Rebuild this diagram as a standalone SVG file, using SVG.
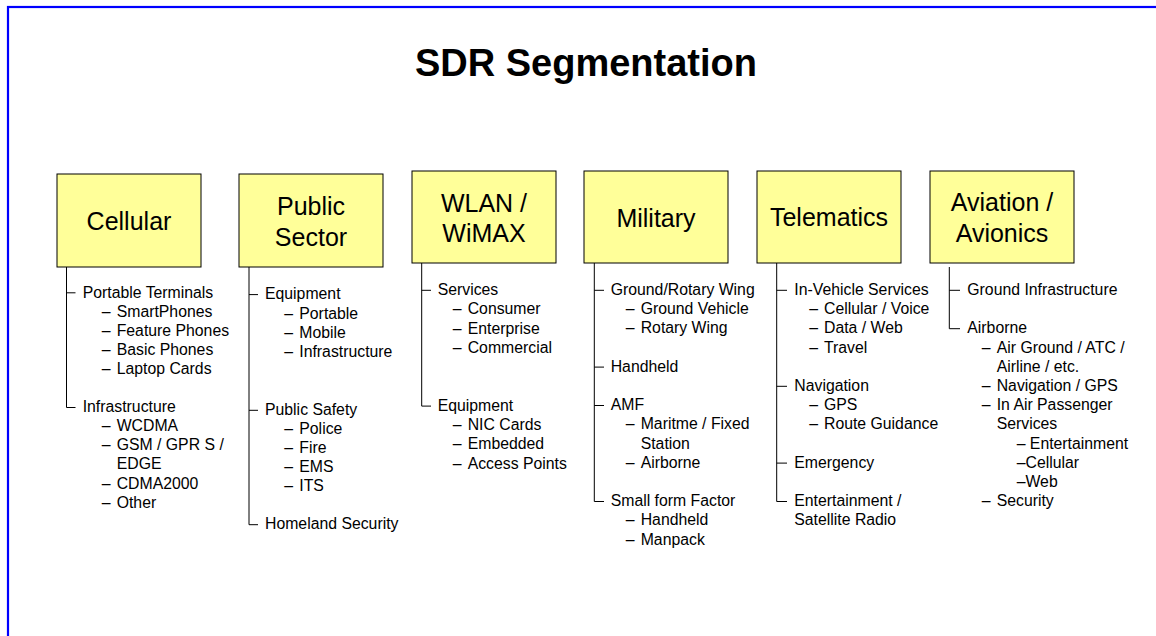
<svg xmlns="http://www.w3.org/2000/svg" width="1156" height="636" viewBox="0 0 1156 636">
<style>
.box{fill:#FFFF99;stroke:#000;stroke-width:1}
.bt{font-family:"Liberation Sans",Arial,sans-serif;font-size:25px;fill:#000;text-anchor:middle}
.li{font-family:"Liberation Sans",Arial,sans-serif;font-size:15.8px;fill:#000}
.title{font-family:"Liberation Sans",Arial,sans-serif;font-size:38px;font-weight:bold;fill:#000;text-anchor:middle}
.cn{stroke:#000;stroke-width:1;fill:none}
</style>
<rect x="8" y="7" width="1200" height="700" fill="#fff" stroke="#0000FF" stroke-width="2.2"/>
<text class="title" x="586" y="76">SDR Segmentation</text>

<g id="connectors" class="cn">
<path d="M66.5 267V407.5M66.5 292.8H75.5M66.5 407.5H75.5"/>
<path d="M249 267V524.7M249 294.6H258M249 410.3H258M249 524.7H258"/>
<path d="M421.7 263V406.1M421.7 290.3H431M421.7 406.1H431"/>
<path d="M594.3 263V501.5M594.3 290.3H604M594.3 367.1H604M594.3 405.5H604M594.3 501.5H604"/>
<path d="M776.7 263V501.5M776.7 290.3H787M776.7 386.3H787M776.7 463.1H787M776.7 501.5H787"/>
<path d="M949.3 267V328.7M949.3 290.3H960M949.3 328.7H960"/>
</g>

<g id="cellular">
<rect class="box" x="57" y="174" width="144" height="93"/>
<text class="bt" x="129" y="230">Cellular</text>
<text class="li" x="82.7" y="297.5">Portable Terminals</text>
<text class="li" y="316.6"><tspan x="101.7">–</tspan><tspan x="116.7">SmartPhones</tspan></text>
<text class="li" y="335.7"><tspan x="101.7">–</tspan><tspan x="116.7">Feature Phones</tspan></text>
<text class="li" y="354.8"><tspan x="101.7">–</tspan><tspan x="116.7">Basic Phones</tspan></text>
<text class="li" y="373.9"><tspan x="101.7">–</tspan><tspan x="116.7">Laptop Cards</tspan></text>
<text class="li" x="82.7" y="412.1">Infrastructure</text>
<text class="li" y="431.2"><tspan x="101.7">–</tspan><tspan x="116.7">WCDMA</tspan></text>
<text class="li" y="450.3"><tspan x="101.7">–</tspan><tspan x="116.7">GSM / GPR S /</tspan></text>
<text class="li" x="116.7" y="469.4">EDGE</text>
<text class="li" y="488.5"><tspan x="101.7">–</tspan><tspan x="116.7">CDMA2000</tspan></text>
<text class="li" y="507.6"><tspan x="101.7">–</tspan><tspan x="116.7">Other</tspan></text>
</g>

<g id="public-sector">
<rect class="box" x="239" y="174" width="144" height="93"/>
<text class="bt" x="311" y="215">Public</text>
<text class="bt" x="311" y="246">Sector</text>
<text class="li" x="265" y="299.3">Equipment</text>
<text class="li" y="318.5"><tspan x="284.3">–</tspan><tspan x="299.3">Portable</tspan></text>
<text class="li" y="337.7"><tspan x="284.3">–</tspan><tspan x="299.3">Mobile</tspan></text>
<text class="li" y="356.9"><tspan x="284.3">–</tspan><tspan x="299.3">Infrastructure</tspan></text>
<text class="li" x="265" y="414.5">Public Safety</text>
<text class="li" y="433.7"><tspan x="284.3">–</tspan><tspan x="299.3">Police</tspan></text>
<text class="li" y="452.9"><tspan x="284.3">–</tspan><tspan x="299.3">Fire</tspan></text>
<text class="li" y="472.1"><tspan x="284.3">–</tspan><tspan x="299.3">EMS</tspan></text>
<text class="li" y="491.3"><tspan x="284.3">–</tspan><tspan x="299.3">ITS</tspan></text>
<text class="li" x="265" y="529.4">Homeland Security</text>
</g>

<g id="wlan-wimax">
<rect class="box" x="412" y="171" width="144" height="92"/>
<text class="bt" x="484" y="211.7">WLAN /</text>
<text class="bt" x="484" y="241.7">WiMAX</text>
<text class="li" x="437.7" y="295">Services</text>
<text class="li" y="314.3"><tspan x="452.7">–</tspan><tspan x="467.7">Consumer</tspan></text>
<text class="li" y="333.6"><tspan x="452.7">–</tspan><tspan x="467.7">Enterprise</tspan></text>
<text class="li" y="352.9"><tspan x="452.7">–</tspan><tspan x="467.7">Commercial</tspan></text>
<text class="li" x="437.7" y="410.8">Equipment</text>
<text class="li" y="430.1"><tspan x="452.7">–</tspan><tspan x="467.7">NIC Cards</tspan></text>
<text class="li" y="449.4"><tspan x="452.7">–</tspan><tspan x="467.7">Embedded</tspan></text>
<text class="li" y="468.7"><tspan x="452.7">–</tspan><tspan x="467.7">Access Points</tspan></text>
</g>

<g id="military">
<rect class="box" x="584" y="171" width="144" height="92"/>
<text class="bt" x="656" y="226.7">Military</text>
<text class="li" x="610.7" y="295">Ground/Rotary Wing</text>
<text class="li" y="314.2"><tspan x="625.7">–</tspan><tspan x="640.7">Ground Vehicle</tspan></text>
<text class="li" y="333.4"><tspan x="625.7">–</tspan><tspan x="640.7">Rotary Wing</tspan></text>
<text class="li" x="610.7" y="371.8">Handheld</text>
<text class="li" x="610.7" y="410.2">AMF</text>
<text class="li" y="429.4"><tspan x="625.7">–</tspan><tspan x="640.7">Maritme / Fixed</tspan></text>
<text class="li" x="640.7" y="448.6">Station</text>
<text class="li" y="467.8"><tspan x="625.7">–</tspan><tspan x="640.7">Airborne</tspan></text>
<text class="li" x="610.7" y="506.2">Small form Factor</text>
<text class="li" y="525.4"><tspan x="625.7">–</tspan><tspan x="640.7">Handheld</tspan></text>
<text class="li" y="544.6"><tspan x="625.7">–</tspan><tspan x="640.7">Manpack</tspan></text>
</g>

<g id="telematics">
<rect class="box" x="757" y="171" width="144" height="92"/>
<text class="bt" x="829" y="226">Telematics</text>
<text class="li" x="794.3" y="295">In-Vehicle Services</text>
<text class="li" y="314.2"><tspan x="809.3">–</tspan><tspan x="824">Cellular / Voice</tspan></text>
<text class="li" y="333.4"><tspan x="809.3">–</tspan><tspan x="824">Data / Web</tspan></text>
<text class="li" y="352.6"><tspan x="809.3">–</tspan><tspan x="824">Travel</tspan></text>
<text class="li" x="794.3" y="391">Navigation</text>
<text class="li" y="410.2"><tspan x="809.3">–</tspan><tspan x="824">GPS</tspan></text>
<text class="li" y="429.4"><tspan x="809.3">–</tspan><tspan x="824">Route Guidance</tspan></text>
<text class="li" x="794.3" y="467.8">Emergency</text>
<text class="li" x="794.3" y="506.2">Entertainment /</text>
<text class="li" x="794.3" y="525.4">Satellite Radio</text>
</g>

<g id="aviation-avionics">
<rect class="box" x="930" y="171" width="144" height="92"/>
<text class="bt" x="1002" y="210.7">Aviation /</text>
<text class="bt" x="1002" y="241.7">Avionics</text>
<text class="li" x="967.3" y="295">Ground Infrastructure</text>
<text class="li" x="967.3" y="333.4">Airborne</text>
<text class="li" y="352.6"><tspan x="981.7">–</tspan><tspan x="996.7">Air Ground / ATC /</tspan></text>
<text class="li" x="996.7" y="371.8">Airline / etc.</text>
<text class="li" y="391"><tspan x="981.7">–</tspan><tspan x="996.7">Navigation / GPS</tspan></text>
<text class="li" y="410.2"><tspan x="981.7">–</tspan><tspan x="996.7">In Air Passenger</tspan></text>
<text class="li" x="996.7" y="429.4">Services</text>
<text class="li" x="1016.7" y="448.6">– Entertainment</text>
<text class="li" x="1016.7" y="467.8">–Cellular</text>
<text class="li" x="1016.7" y="487">–Web</text>
<text class="li" y="506.2"><tspan x="981.7">–</tspan><tspan x="996.7">Security</tspan></text>
</g>
</svg>
